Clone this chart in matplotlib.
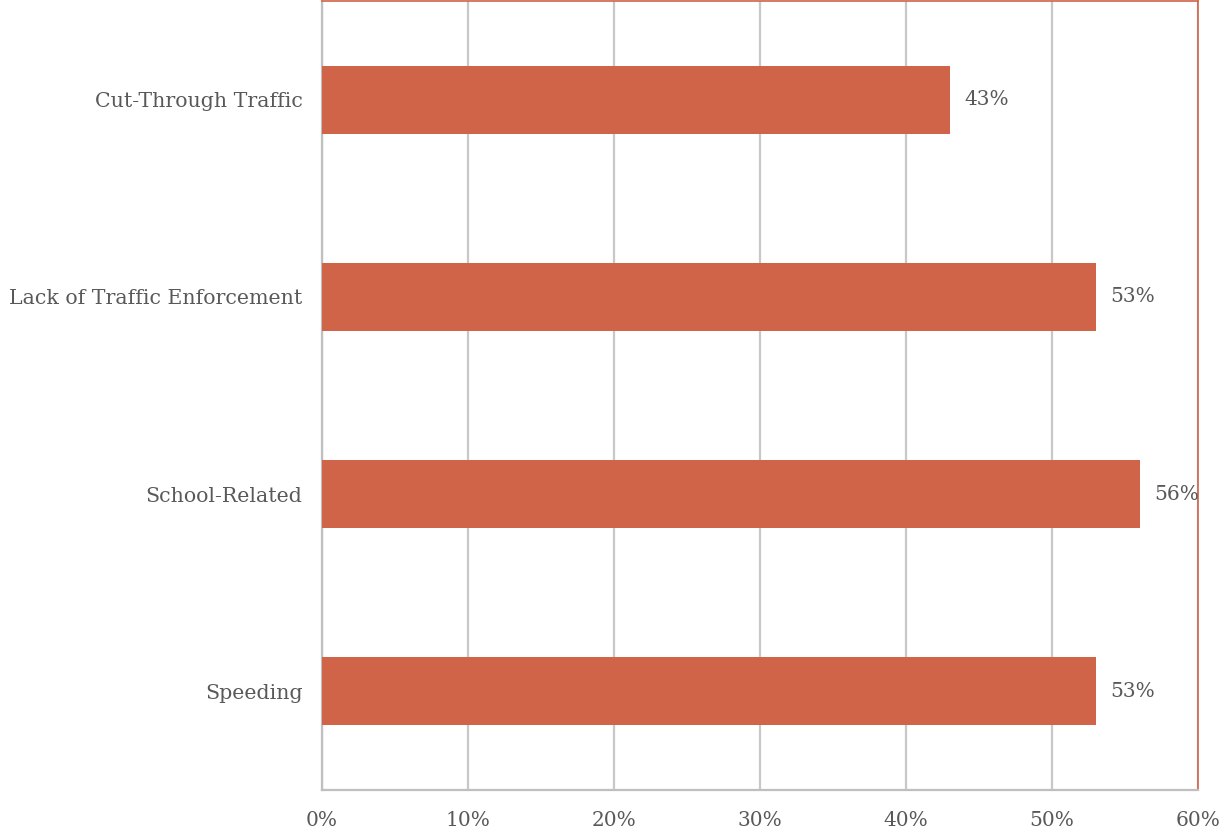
import matplotlib
matplotlib.use('Agg')
import matplotlib.pyplot as plt

categories = ['Speeding', 'School-Related', 'Lack of Traffic Enforcement', 'Cut-Through Traffic']
values = [53, 56, 53, 43]
xticks = [0, 10, 20, 30, 40, 50, 60]

bar_color = '#D06449'
text_color = '#595959'

plt.rcParams['font.family'] = ['DejaVu Serif']

fig = plt.figure(figsize=(12.27, 8.36), dpi=100)
ax = fig.add_axes([322/1227, 46/836, 876/1227, 789/836])

y = range(len(categories))
ax.barh(y, values, height=0.345, color=bar_color, zorder=3)
for i, v in enumerate(values):
    ax.text(v + 1, i, f'{v}%', va='center', ha='left', fontsize=14.5, color=text_color, zorder=4)

ax.set_xlim(0, 60)
ax.set_ylim(-0.5, len(categories) - 0.5)
ax.set_xticks(xticks)
ax.set_xticklabels([f'{t}%' for t in xticks], fontsize=14.5, color=text_color)
ax.set_yticks(list(y))
ax.set_yticklabels(categories, fontsize=14.8, color=text_color)
ax.tick_params(axis='both', length=0)
ax.tick_params(axis='x', pad=15)
ax.tick_params(axis='y', pad=14)
ax.xaxis.grid(True, color='#C8C8C8', linewidth=1.6, zorder=0)

for s in ['left', 'bottom']:
    ax.spines[s].set_color('#BFBFBF')
    ax.spines[s].set_linewidth(1.6)
for s in ['top', 'right']:
    ax.spines[s].set_color(bar_color)
    ax.spines[s].set_linewidth(1.2)

fig.savefig('out.png', dpi=100)
